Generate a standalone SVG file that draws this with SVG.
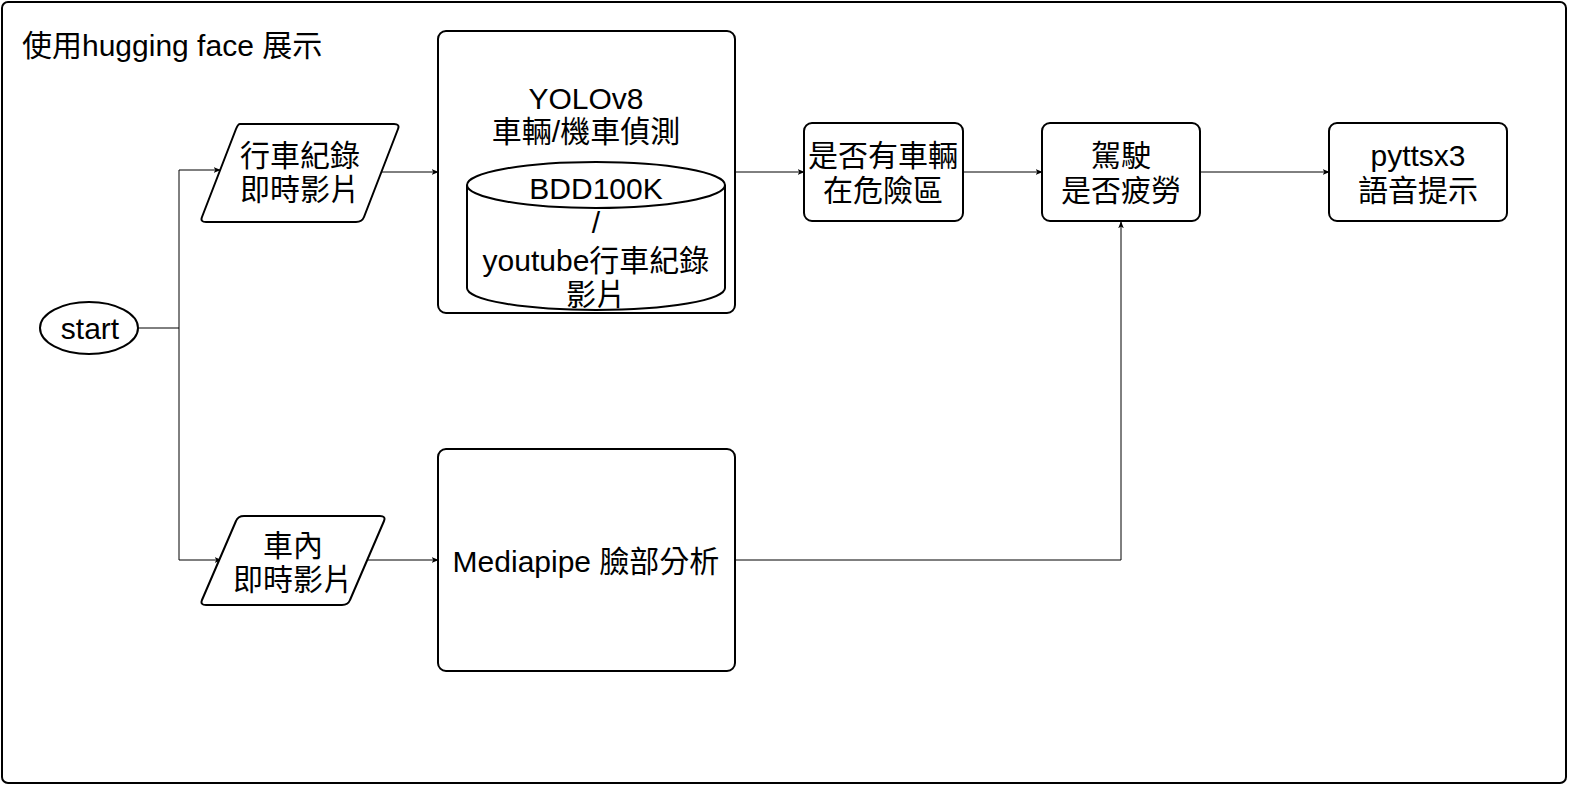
<svg xmlns="http://www.w3.org/2000/svg" width="1582" height="792" viewBox="0 0 1582 792">
<style>
.n{fill:#fff;stroke:#000;stroke-width:2}
.t{font-family:"Liberation Sans","Noto Sans CJK TC",sans-serif;font-size:30px;fill:#000;text-anchor:middle}
.c{fill:none;stroke:#000;stroke-width:1}
</style>
<defs>
<marker id="a" viewBox="0 0 10 10" refX="9" refY="5" markerWidth="7" markerHeight="7" orient="auto" markerUnits="userSpaceOnUse">
<path d="M0,1 L10,5 L0,9 L2.5,5 Z" fill="#000"/>
</marker>
</defs>
<rect width="1582" height="792" fill="#fff"/>
<g id="frame">
<rect x="2" y="2" width="1564" height="781" rx="6" class="n"/>
<text x="22" y="56" class="t" style="text-anchor:start">使用hugging face 展示</text>
</g>
<g id="connectors">
<path class="c" d="M138,328 H179 V170 H220" marker-end="url(#a)"/>
<path class="c" d="M179,328 V560 H221" marker-end="url(#a)"/>
<path class="c" d="M381,172 H438" marker-end="url(#a)"/>
<path class="c" d="M735,172 H804" marker-end="url(#a)"/>
<path class="c" d="M963,172 H1042" marker-end="url(#a)"/>
<path class="c" d="M1200,172 H1329" marker-end="url(#a)"/>
<path class="c" d="M367,560 H438" marker-end="url(#a)"/>
<path class="c" d="M735,560 H1121 V222" marker-end="url(#a)"/>
</g>
<g id="start">
<ellipse cx="89" cy="328" rx="49" ry="26" class="n"/>
<text x="90" y="339" class="t">start</text>
</g>
<g id="input1">
<path d="M240,124 H394 Q400,124 398,129 L364,217 Q362,222 356,222 H206 Q200,222 202,217 L236,129 Q238,124 240,124 Z" class="n"/>
<text x="300" y="166" class="t">行車紀錄</text>
<text x="300" y="200" class="t">即時影片</text>
</g>
<g id="yolo">
<rect x="438" y="31" width="297" height="282" rx="8" class="n"/>
<text x="586" y="109" class="t">YOLOv8</text>
<text x="586" y="142" class="t">車輛/機車偵測</text>
<path d="M467,185 A129,23 0 0 1 725,185 V288 A129,22 0 0 1 467,288 Z" class="n"/>
<path d="M467,185 A129,23 0 0 0 725,185" class="c" style="stroke-width:2"/>
<text x="596" y="199" class="t">BDD100K</text>
<text x="596" y="233" class="t">/</text>
<text x="596" y="271" class="t">youtube行車紀錄</text>
<text x="596" y="305" class="t">影片</text>
</g>
<g id="danger">
<rect x="804" y="123" width="159" height="98" rx="8" class="n"/>
<text x="883" y="166" class="t">是否有車輛</text>
<text x="883" y="201" class="t">在危險區</text>
</g>
<g id="fatigue">
<rect x="1042" y="123" width="158" height="98" rx="8" class="n"/>
<text x="1121" y="166" class="t">駕駛</text>
<text x="1121" y="201" class="t">是否疲勞</text>
</g>
<g id="tts">
<rect x="1329" y="123" width="178" height="98" rx="8" class="n"/>
<text x="1418" y="166" class="t">pyttsx3</text>
<text x="1418" y="201" class="t">語音提示</text>
</g>
<g id="input2">
<path d="M244,516 H380 Q386,516 384,521 L350,600 Q348,605 342,605 H206 Q200,605 202,600 L236,521 Q238,516 244,516 Z" class="n"/>
<text x="293" y="556" class="t">車內</text>
<text x="293" y="590" class="t">即時影片</text>
</g>
<g id="mediapipe">
<rect x="438" y="449" width="297" height="222" rx="8" class="n"/>
<text x="586" y="572" class="t">Mediapipe 臉部分析</text>
</g>
</svg>
